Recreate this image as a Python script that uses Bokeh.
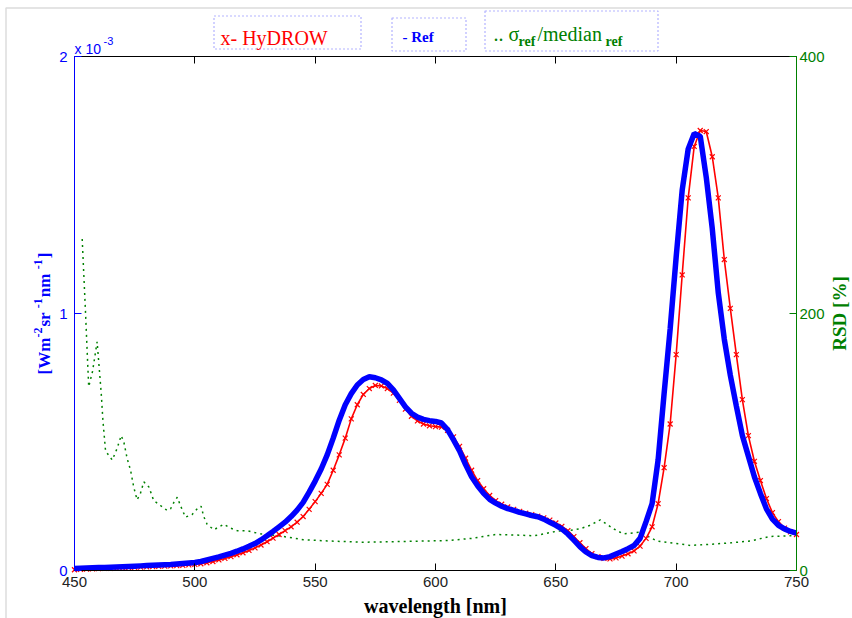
import math
from bokeh.plotting import figure
from bokeh.models import Range1d, LinearAxis, FixedTicker, Label, BoxAnnotation
from bokeh.embed import file_html
from bokeh.resources import INLINE

# ---------------- data ----------------
wavelength = [450 + 2.5 * i for i in range(121)]  # nm grid, 450 .. 750

# HyDROW radiance (x 1e-3 W m^-2 sr^-1 nm^-1)
hydrow = [
    0.003, 0.004, 0.005, 0.006, 0.007, 0.008, 0.008, 0.009, 0.010, 0.011,
    0.012, 0.013, 0.014, 0.015, 0.016, 0.017, 0.018, 0.019, 0.020, 0.022,
    0.024, 0.026, 0.030, 0.035, 0.041, 0.047, 0.054, 0.061, 0.069, 0.078,
    0.088, 0.099, 0.112, 0.126, 0.140, 0.155, 0.170, 0.188, 0.210, 0.238,
    0.268, 0.300, 0.335, 0.390, 0.450, 0.515, 0.590, 0.645, 0.685, 0.708,
    0.720, 0.718, 0.708, 0.690, 0.662, 0.628, 0.600, 0.582, 0.570, 0.563,
    0.560, 0.558, 0.545, 0.520, 0.483, 0.437, 0.390, 0.350, 0.318, 0.292,
    0.272, 0.258, 0.247, 0.238, 0.230, 0.223, 0.217, 0.211, 0.205, 0.196,
    0.185, 0.172, 0.155, 0.132, 0.108, 0.085, 0.066, 0.054, 0.047, 0.045,
    0.049, 0.056, 0.065, 0.076, 0.095, 0.125, 0.170, 0.260, 0.400, 0.570,
    0.840, 1.150, 1.450, 1.650, 1.712, 1.708, 1.610, 1.450, 1.210, 1.020,
    0.840, 0.665, 0.525, 0.425, 0.350, 0.280, 0.225, 0.190, 0.165, 0.150,
    0.140,
]

# Reference radiance (x 1e-3)
ref = [
    0.008, 0.009, 0.010, 0.011, 0.012, 0.012, 0.013, 0.014, 0.015, 0.016,
    0.017, 0.018, 0.019, 0.020, 0.021, 0.022, 0.023, 0.025, 0.027, 0.029,
    0.031, 0.035, 0.041, 0.047, 0.053, 0.060, 0.067, 0.075, 0.084, 0.094,
    0.105, 0.119, 0.135, 0.152, 0.170, 0.188, 0.210, 0.235, 0.265, 0.305,
    0.348, 0.395, 0.450, 0.515, 0.585, 0.645, 0.688, 0.722, 0.743, 0.754,
    0.750, 0.742, 0.728, 0.703, 0.670, 0.637, 0.612, 0.597, 0.588, 0.583,
    0.580, 0.574, 0.548, 0.508, 0.465, 0.412, 0.365, 0.330, 0.300, 0.277,
    0.262, 0.250, 0.241, 0.234, 0.226, 0.220, 0.214, 0.209, 0.200, 0.188,
    0.176, 0.162, 0.142, 0.118, 0.093, 0.072, 0.058, 0.051, 0.049, 0.054,
    0.064, 0.074, 0.085, 0.097, 0.125, 0.190, 0.260, 0.430, 0.690, 0.940,
    1.220, 1.480, 1.640, 1.700, 1.690, 1.530, 1.330, 1.080, 0.900, 0.760,
    0.640, 0.525, 0.445, 0.365, 0.300, 0.240, 0.200, 0.176, 0.162, 0.152,
    0.145,
]

# RSD = sigma_ref / median_ref  [%]
rsd_wavelength = [
    453.2, 454.6, 455.3, 455.9, 457.5, 459.4, 461.1, 461.8, 462.9, 465.7,
    467.7, 469.4, 470.5, 471.9, 473.3, 474.6, 476.0, 477.4, 478.8, 480.9,
    482.9, 485.7, 488.5, 489.9, 491.3, 492.7, 494.0, 496.1, 498.9, 501.0,
    502.6, 503.7, 505.1, 507.9, 512.0, 514.8, 517.6, 521.7, 527.3, 535.0,
    545.0, 555.0, 570.0, 585.0, 605.0, 615.0, 625.0, 635.0, 641.0, 650.5,
    655.0, 660.0, 664.0, 668.5, 674.0, 678.0, 685.0, 692.0, 700.0, 706.0,
    715.0, 722.5, 731.0, 739.0, 747.5, 750.0,
]
rsd = [
    258, 200, 169, 143, 155, 178, 138, 117, 93, 86,
    95, 105, 100, 87, 78, 65, 55, 60, 69, 65,
    54.5, 50.6, 46.7, 48, 53, 57, 50.6, 41.5, 43.6, 48,
    50, 42, 36, 31.7, 36, 33, 31, 31, 28.5, 27,
    24, 23, 22, 22.5, 23.3, 25, 28, 27.5, 27, 30.6,
    31, 32.4, 35, 39.4, 32.4, 28.5, 29.8, 23, 21, 19.5,
    20.5, 21.5, 23, 26.5, 27, 28,
]

x_ticks = [450, 500, 550, 600, 650, 700, 750]
y_ticks = [0, 1, 2]
rsd_ticks = [0, 200, 400]

X_LIM = (450, 750)
Y_LIM = (0, 2)
RSD_LIM = (0, 400)

# ---------------- layout ----------------
W, H = 852, 618
FL, FR, FT, FB = 74, 796, 56, 570  # axes box edges in canvas pixels

BLUE = "#0000ff"
RED = "#ff0000"
GREEN = "#008000"
TICK_FONT = "Liberation Sans"
SERIF = "Liberation Serif"

# the plotting frame covers the whole canvas; axes are pinned at the box edges
sx = (FR - FL) / (X_LIM[1] - X_LIM[0])
sy = (FB - FT) / (Y_LIM[1] - Y_LIM[0])
sr = (FB - FT) / (RSD_LIM[1] - RSD_LIM[0])
x_range = Range1d(X_LIM[0] - FL / sx, X_LIM[1] + (W - FR) / sx)
y_range = Range1d(Y_LIM[0] - (H - FB) / sy, Y_LIM[1] + FT / sy)
rsd_range = Range1d(RSD_LIM[0] - (H - FB) / sr, RSD_LIM[1] + FT / sr)

p = figure(width=W, height=H, output_backend="svg", toolbar_location=None,
           x_range=x_range, y_range=y_range,
           x_axis_location=None, y_axis_location=None, min_border=0)
p.title.visible = False
p.extra_y_ranges = {"rsd": rsd_range}
p.xgrid.visible = False
p.ygrid.visible = False
p.outline_line_color = None
p.background_fill_color = "white"
p.border_fill_color = "white"


def style_axis(ax, color, standoff):
    ax.axis_line_color = color
    ax.axis_line_width = 1
    ax.major_tick_line_color = color
    ax.major_tick_in = 7
    ax.major_tick_out = 0
    ax.minor_tick_line_color = None
    ax.major_label_text_color = color
    ax.major_label_text_font = TICK_FONT
    ax.major_label_text_font_size = "15px"
    ax.major_label_standoff = standoff


xb = LinearAxis(ticker=FixedTicker(ticks=x_ticks), fixed_location=Y_LIM[0], bounds=X_LIM)
style_axis(xb, "black", 6)
xb.major_label_text_color = "#222222"
p.add_layout(xb, "below")

xt = LinearAxis(ticker=FixedTicker(ticks=x_ticks), fixed_location=Y_LIM[1], bounds=X_LIM)
style_axis(xt, "black", 0)
xt.major_label_text_color = None
p.add_layout(xt, "above")

yl = LinearAxis(ticker=FixedTicker(ticks=y_ticks), fixed_location=X_LIM[0], bounds=Y_LIM)
style_axis(yl, BLUE, 7)
p.add_layout(yl, "left")

yr = LinearAxis(y_range_name="rsd", ticker=FixedTicker(ticks=rsd_ticks),
                fixed_location=X_LIM[1], bounds=RSD_LIM)
style_axis(yr, GREEN, 3)
p.add_layout(yr, "right")

# ---------------- data renderers ----------------
p.line(rsd_wavelength, rsd, y_range_name="rsd", line_color=GREEN,
       line_width=1.5, line_dash="2 4")
p.line(wavelength, hydrow, line_color=RED, line_width=1.6)
p.scatter(wavelength, hydrow, marker="x", size=7, line_color=RED, line_width=1.2)
p.line(wavelength, ref, line_color=BLUE, line_width=5.5)


# ---------------- texts (canvas pixel positions, y measured from top) ----------------
def add_text(txt, px, py, size, color, font=SERIF, style="normal",
             align="left", baseline="alphabetic", angle=0.0):
    p.add_layout(Label(x=px, y=H - py, x_units="screen", y_units="screen",
                       text=txt, text_font=font, text_font_size=f"{size}px",
                       text_font_style=style, text_color=color,
                       text_align=align, text_baseline=baseline,
                       angle=angle, angle_units="rad"))


def add_box(l, r, t, b, color=BLUE, dash="2 2", width=1.2):
    p.add_layout(BoxAnnotation(left=l, right=r, top=H - t, bottom=H - b,
                               left_units="screen", right_units="screen",
                               top_units="screen", bottom_units="screen",
                               fill_alpha=0, fill_color=None,
                               line_color=color, line_width=width, line_dash=dash))


# outer frame of the original figure window
add_box(5.5, W + 10, 7.5, H + 10, color="#8a8a8a", dash="solid", width=1.5)

# exponent of the left axis
add_text("x 10", 74, 48, 14, BLUE, font=TICK_FONT)
add_text("-3", 103, 40, 11, BLUE, font=TICK_FONT)

# left axis label (rotated), built from pieces
pieces = [("[Wm", 17, 0), ("-2", 12, 1), (" sr", 17, 0), ("-1", 12, 1),
          (" nm", 17, 0), ("-1", 12, 1), ("]", 17, 0)]
widths = [36.8, 11.0, 18.4, 11.0, 27.9, 11.0, 5.7]
total = sum(widths)
py = 313 + total / 2
for (txt, size, sup), wdt in zip(pieces, widths):
    add_text(txt, 44 - (7 if sup else 0), py, size, BLUE, style="bold",
             angle=math.pi / 2)
    py -= wdt

# right axis label
add_text("RSD [%]", 839, 313, 19, GREEN, style="bold", align="center",
         baseline="middle", angle=math.pi / 2)

# x axis label
add_text("wavelength [nm]", 435, 605, 20, "black", style="bold", align="center")

# legend boxes
add_box(213.5, 360.5, 15.5, 48.5)
add_text("x- HyDROW", 220, 37, 20, RED)

add_box(391.5, 465.5, 17.5, 50.5)
add_text("- Ref", 402, 36, 15, BLUE, style="bold")

add_box(484.5, 657.5, 10.5, 50.5)
add_text(".. σ", 493, 33, 20, GREEN)
add_text("ref", 518, 41, 14, GREEN, style="bold")
add_text("/median", 537, 33, 20, GREEN)
add_text("ref", 605, 41, 14, GREEN, style="bold")

open("out.html", "w").write(file_html(p, INLINE))
